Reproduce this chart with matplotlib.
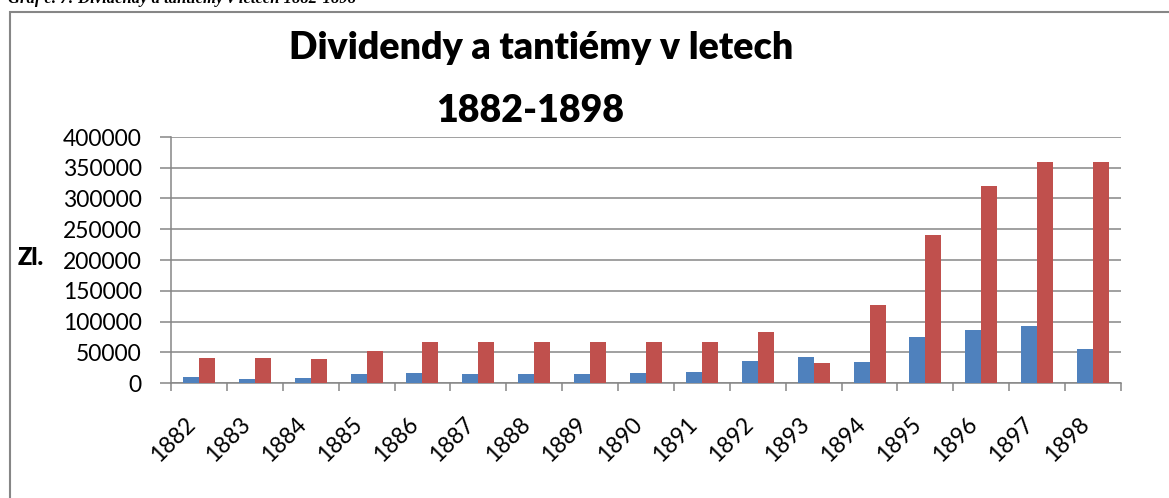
import numpy as np
import matplotlib
matplotlib.use("Agg")
import matplotlib.pyplot as plt
import matplotlib.transforms as mtransforms
from matplotlib.patches import Rectangle

plt.rcParams['font.family'] = ['Lato', 'DejaVu Sans']

# data
years = [str(y) for y in range(1882, 1899)]
dividendy = [9000, 6500, 7500, 15000, 16500, 14500, 14500, 15000, 16000,
             18500, 35500, 43000, 34000, 75000, 86000, 93000, 55500]
tantiemy = [40000, 40000, 39000, 52500, 66000, 66000, 66000, 66000, 66000,
            66000, 83000, 33000, 127000, 240000, 320000, 360000, 360000]
y_ticks = list(range(0, 400001, 50000))

blue = '#4F81BD'
red = '#C0504D'
grey = '#868686'

W, H = 1169, 498
fig = plt.figure(figsize=(W / 100, H / 100), dpi=100)

# chart frame (cut off on the right and bottom, as in the scan)
fig.patches.append(Rectangle((10 / W, -0.1), 1.2, 1 - 12 / H + 0.1,
                             transform=fig.transFigure, fill=False,
                             edgecolor=grey, lw=1.5))

# caption above the chart, clipped at the top edge like in the scan
fig.text(8 / W, 1 - 3 / H, 'Graf č. 7: Dividendy a tantiémy v letech 1882-1898',
         fontsize=12, fontweight='bold', fontstyle='italic',
         family='Liberation Serif', ha='left', va='baseline')

ax = fig.add_axes([171 / W, 1 - 383 / H, (1121 - 171) / W, (383 - 137) / H])

x = np.arange(len(years))
bw = 0.286
ax.bar(x - bw / 2, dividendy, bw, color=blue, zorder=3)
ax.bar(x + bw / 2, tantiemy, bw, color=red, zorder=3)

ax.set_xlim(-0.5, len(years) - 0.5)
ax.set_ylim(0, 400000)
ax.set_yticks(y_ticks)
ax.set_yticklabels([str(v) for v in y_ticks], fontsize=16.5)
ax.yaxis.grid(True, color=grey, lw=1.1, zorder=0)

ax.set_xticks(np.arange(-0.5, len(years), 1.0))
ax.set_xticklabels([])
ax.set_xticks(x, minor=True)
ax.set_xticklabels(years, minor=True, rotation=45, ha='right', fontsize=16.5)
shift = mtransforms.ScaledTranslation(5 / 100, 0, fig.dpi_scale_trans)
for lab in ax.get_xticklabels(minor=True):
    lab.set_transform(lab.get_transform() + shift)
ax.tick_params(axis='x', which='major', direction='out', length=6, color=grey, width=1.1)
ax.tick_params(axis='x', which='minor', length=0, pad=22)
ax.tick_params(axis='y', direction='out', length=8, color=grey, width=1.1, pad=13)

for side in ['top', 'right']:
    ax.spines[side].set_visible(False)
for side in ['left', 'bottom']:
    ax.spines[side].set_color(grey)
    ax.spines[side].set_linewidth(1.1)

fig.text(18 / W, 1 - 258 / H, 'Zl.', fontsize=17, fontweight='heavy',
         ha='left', va='center')

fig.text(541 / W, 1 - 59 / H, 'Dividendy a tantiémy v letech',
         fontsize=27, fontweight='heavy', ha='center', va='baseline')
fig.text(530 / W, 1 - 122 / H, '1882-1898',
         fontsize=27, fontweight='heavy', ha='center', va='baseline')

fig.savefig('out.png', dpi=100)
